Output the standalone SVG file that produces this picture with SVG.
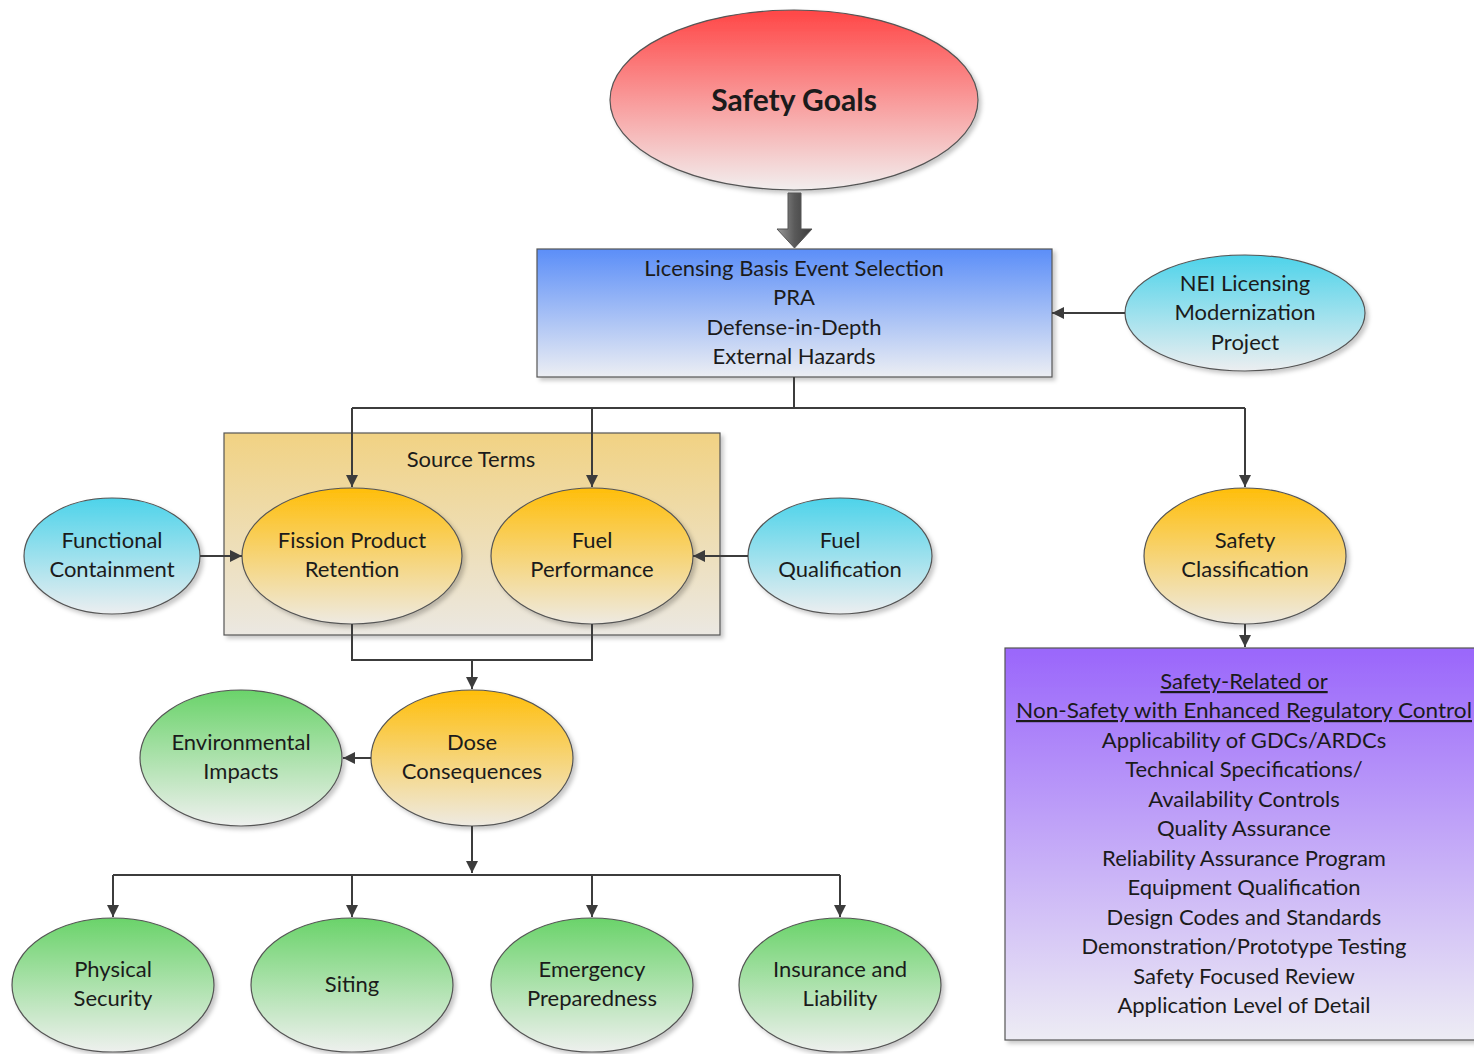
<svg xmlns="http://www.w3.org/2000/svg" width="1474" height="1054" viewBox="0 0 1474 1054">
<defs>
<linearGradient id="gRed" x1="0" y1="0" x2="0" y2="1"><stop offset="0" stop-color="#ff4646"/><stop offset="1" stop-color="#f2eeee"/></linearGradient>
<linearGradient id="gBlue" x1="0" y1="0" x2="0" y2="1"><stop offset="0" stop-color="#5b8ef8"/><stop offset="1" stop-color="#eceef3"/></linearGradient>
<linearGradient id="gCyan" x1="0" y1="0" x2="0" y2="1"><stop offset="0" stop-color="#4dd3ea"/><stop offset="1" stop-color="#eceef0"/></linearGradient>
<linearGradient id="gOrange" x1="0" y1="0" x2="0" y2="1"><stop offset="0" stop-color="#ffbe0a"/><stop offset="1" stop-color="#eeeae2"/></linearGradient>
<linearGradient id="gGreen" x1="0" y1="0" x2="0" y2="1"><stop offset="0" stop-color="#6ad36a"/><stop offset="1" stop-color="#eef0ee"/></linearGradient>
<linearGradient id="gSand" x1="0" y1="0" x2="0" y2="1"><stop offset="0" stop-color="#f1d283"/><stop offset="1" stop-color="#ebe8e2"/></linearGradient>
<linearGradient id="gPurple" x1="0" y1="0" x2="0" y2="1"><stop offset="0" stop-color="#9a66fb"/><stop offset="1" stop-color="#edecf4"/></linearGradient>
<linearGradient id="gGray" x1="0" y1="0" x2="1" y2="0"><stop offset="0" stop-color="#9a9a9a"/><stop offset="0.5" stop-color="#5a5a5a"/><stop offset="1" stop-color="#3a3a3a"/></linearGradient>
<filter id="sh" x="-10%" y="-10%" width="125%" height="125%"><feDropShadow dx="3" dy="3" stdDeviation="2" flood-color="#000" flood-opacity="0.22"/></filter>
<marker id="ah" viewBox="0 0 12 12" refX="12" refY="6" markerWidth="12" markerHeight="12" markerUnits="userSpaceOnUse" orient="auto"><path d="M0,0 L12,6 L0,12 Z" fill="#3c3c3c"/></marker>
</defs>
<style>
.sh{stroke:#555;stroke-width:1.2;filter:url(#sh)}
.t{font-family:Lato,"Open Sans","Noto Sans",sans-serif;font-size:22px;fill:#1b1b1b;text-anchor:middle}
.c{fill:none;stroke:#3c3c3c;stroke-width:2}
</style>
<rect width="1474" height="1054" fill="#fff"/>

<g id="safety-goals">
<ellipse class="sh" cx="794" cy="100" rx="184" ry="90" fill="url(#gRed)"/>
<text class="t" x="794" y="111" style="font-size:30px;font-weight:bold">Safety Goals</text>
</g>

<g id="licensing-basis">
<rect class="sh" x="537" y="249" width="515" height="128" fill="url(#gBlue)"/>
<text class="t" x="794" y="276">Licensing Basis Event Selection</text>
<text class="t" x="794" y="305">PRA</text>
<text class="t" x="794" y="335">Defense-in-Depth</text>
<text class="t" x="794" y="364">External Hazards</text>
</g>

<g id="nei">
<ellipse class="sh" cx="1245" cy="313" rx="120" ry="58" fill="url(#gCyan)"/>
<text class="t" x="1245" y="291">NEI Licensing</text>
<text class="t" x="1245" y="320">Modernization</text>
<text class="t" x="1245" y="350">Project</text>
</g>

<g id="source-terms">
<rect class="sh" x="224" y="433" width="496" height="202" fill="url(#gSand)"/>
<text class="t" x="471" y="467">Source Terms</text>
</g>

<g id="functional-containment">
<ellipse class="sh" cx="112" cy="556" rx="88" ry="58" fill="url(#gCyan)"/>
<text class="t" x="112" y="548">Functional</text>
<text class="t" x="112" y="577">Containment</text>
</g>

<g id="fission-product">
<ellipse class="sh" cx="352" cy="556" rx="110" ry="68" fill="url(#gOrange)"/>
<text class="t" x="352" y="548">Fission Product</text>
<text class="t" x="352" y="577">Retention</text>
</g>

<g id="fuel-performance">
<ellipse class="sh" cx="592" cy="556" rx="101" ry="68" fill="url(#gOrange)"/>
<text class="t" x="592" y="548">Fuel</text>
<text class="t" x="592" y="577">Performance</text>
</g>

<g id="fuel-qualification">
<ellipse class="sh" cx="840" cy="556" rx="92" ry="58" fill="url(#gCyan)"/>
<text class="t" x="840" y="548">Fuel</text>
<text class="t" x="840" y="577">Qualification</text>
</g>

<g id="safety-classification">
<ellipse class="sh" cx="1245" cy="556" rx="101" ry="68" fill="url(#gOrange)"/>
<text class="t" x="1245" y="548">Safety</text>
<text class="t" x="1245" y="577">Classification</text>
</g>

<g id="safety-related">
<rect class="sh" x="1005" y="648" width="475" height="392" fill="url(#gPurple)"/>
<text class="t" x="1244" y="689" text-decoration="underline">Safety-Related or</text>
<text class="t" x="1244" y="718" text-decoration="underline" textLength="456" lengthAdjust="spacingAndGlyphs">Non-Safety with Enhanced Regulatory Control</text>
<text class="t" x="1244" y="748">Applicability of GDCs/ARDCs</text>
<text class="t" x="1244" y="777">Technical Specifications/</text>
<text class="t" x="1244" y="807">Availability Controls</text>
<text class="t" x="1244" y="836">Quality Assurance</text>
<text class="t" x="1244" y="866">Reliability Assurance Program</text>
<text class="t" x="1244" y="895">Equipment Qualification</text>
<text class="t" x="1244" y="925">Design Codes and Standards</text>
<text class="t" x="1244" y="954">Demonstration/Prototype Testing</text>
<text class="t" x="1244" y="984">Safety Focused Review</text>
<text class="t" x="1244" y="1013">Application Level of Detail</text>
</g>

<g id="dose-consequences">
<ellipse class="sh" cx="472" cy="758" rx="101" ry="68" fill="url(#gOrange)"/>
<text class="t" x="472" y="750">Dose</text>
<text class="t" x="472" y="779">Consequences</text>
</g>

<g id="environmental-impacts">
<ellipse class="sh" cx="241" cy="758" rx="101" ry="68" fill="url(#gGreen)"/>
<text class="t" x="241" y="750">Environmental</text>
<text class="t" x="241" y="779">Impacts</text>
</g>

<g id="physical-security">
<ellipse class="sh" cx="113" cy="985" rx="101" ry="67" fill="url(#gGreen)"/>
<text class="t" x="113" y="977">Physical</text>
<text class="t" x="113" y="1006">Security</text>
</g>

<g id="siting">
<ellipse class="sh" cx="352" cy="985" rx="101" ry="67" fill="url(#gGreen)"/>
<text class="t" x="352" y="992">Siting</text>
</g>

<g id="emergency-preparedness">
<ellipse class="sh" cx="592" cy="985" rx="101" ry="67" fill="url(#gGreen)"/>
<text class="t" x="592" y="977">Emergency</text>
<text class="t" x="592" y="1006">Preparedness</text>
</g>

<g id="insurance-liability">
<ellipse class="sh" cx="840" cy="985" rx="101" ry="67" fill="url(#gGreen)"/>
<text class="t" x="840" y="977">Insurance and</text>
<text class="t" x="840" y="1006">Liability</text>
</g>

<g id="connectors">
<path d="M788,193 H801 V229 H812 L794.5,248 L777,229 H788 Z" fill="url(#gGray)" stroke="#555" stroke-width="1"/>
<path class="c" d="M1125,313 H1052" marker-end="url(#ah)"/>
<path class="c" d="M794,377 V408"/>
<path class="c" d="M352,408 H1245"/>
<path class="c" d="M352,408 V487" marker-end="url(#ah)"/>
<path class="c" d="M592,408 V487" marker-end="url(#ah)"/>
<path class="c" d="M1245,408 V487" marker-end="url(#ah)"/>
<path class="c" d="M200,556 H242" marker-end="url(#ah)"/>
<path class="c" d="M748,556 H693" marker-end="url(#ah)"/>
<path class="c" d="M1245,624 V647" marker-end="url(#ah)"/>
<path class="c" d="M352,624 V660 H592 V624"/>
<path class="c" d="M472,660 V689" marker-end="url(#ah)"/>
<path class="c" d="M371,758 H343" marker-end="url(#ah)"/>
<path class="c" d="M472,826 V873" marker-end="url(#ah)"/>
<path class="c" d="M113,875 H840"/>
<path class="c" d="M113,875 V917" marker-end="url(#ah)"/>
<path class="c" d="M352,875 V917" marker-end="url(#ah)"/>
<path class="c" d="M592,875 V917" marker-end="url(#ah)"/>
<path class="c" d="M840,875 V917" marker-end="url(#ah)"/>
</g>
</svg>
